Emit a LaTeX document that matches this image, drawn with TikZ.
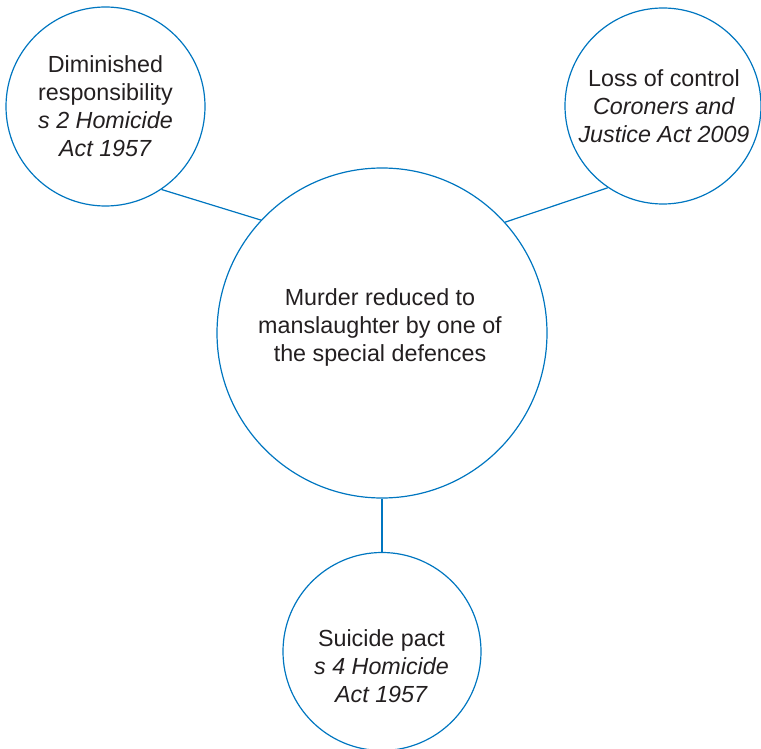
\documentclass[tikz,border=0pt]{standalone}
\usepackage{fontspec}
\setmainfont{Liberation Sans}
\definecolor{ringblue}{RGB}{0,118,192}
\definecolor{inkgray}{RGB}{35,31,32}
\begin{document}
\begin{tikzpicture}[x=1pt,y=-1pt,
  ring/.style={circle,draw=ringblue,line width=1.2pt,inner sep=0pt},
  label/.style={text=inkgray,align=center,inner sep=0pt,
    font=\fontsize{23.3}{28}\selectfont},
  link/.style={draw=ringblue,line width=1.2pt}]
\useasboundingbox (0,0) rectangle (761,749);
% circles
\node[ring,minimum size=330pt] (c)  at (382,333) {};
\node[ring,minimum size=199pt] (tl) at (105.5,106.5) {};
\node[ring,minimum size=196pt] (tr) at (663,106) {};
\node[ring,minimum size=198pt] (bt) at (382,651.5) {};
% texts
\node[label] (ct) at (380,327) {Murder reduced to\\manslaughter by one of\\the special defences};
\node[label] (tlt) at (105.5,106) {Diminished\\responsibility\\\textit{s 2 Homicide}\\\textit{Act 1957}};
\node[label] (trt) at (664,106) {Loss of control\\\textit{Coroners and}\\\textit{Justice Act 2009}};
\node[label] (btt) at (381.5,666) {Suicide pact\\\textit{s 4 Homicide}\\\textit{Act 1957}};
% connectors
\draw[link] (tl.-56) -- (c.137.8);
\draw[link] (tr.236) -- (c.42.4);
\draw[link] (c.south) -- (bt.north);
\end{tikzpicture}
\end{document}
